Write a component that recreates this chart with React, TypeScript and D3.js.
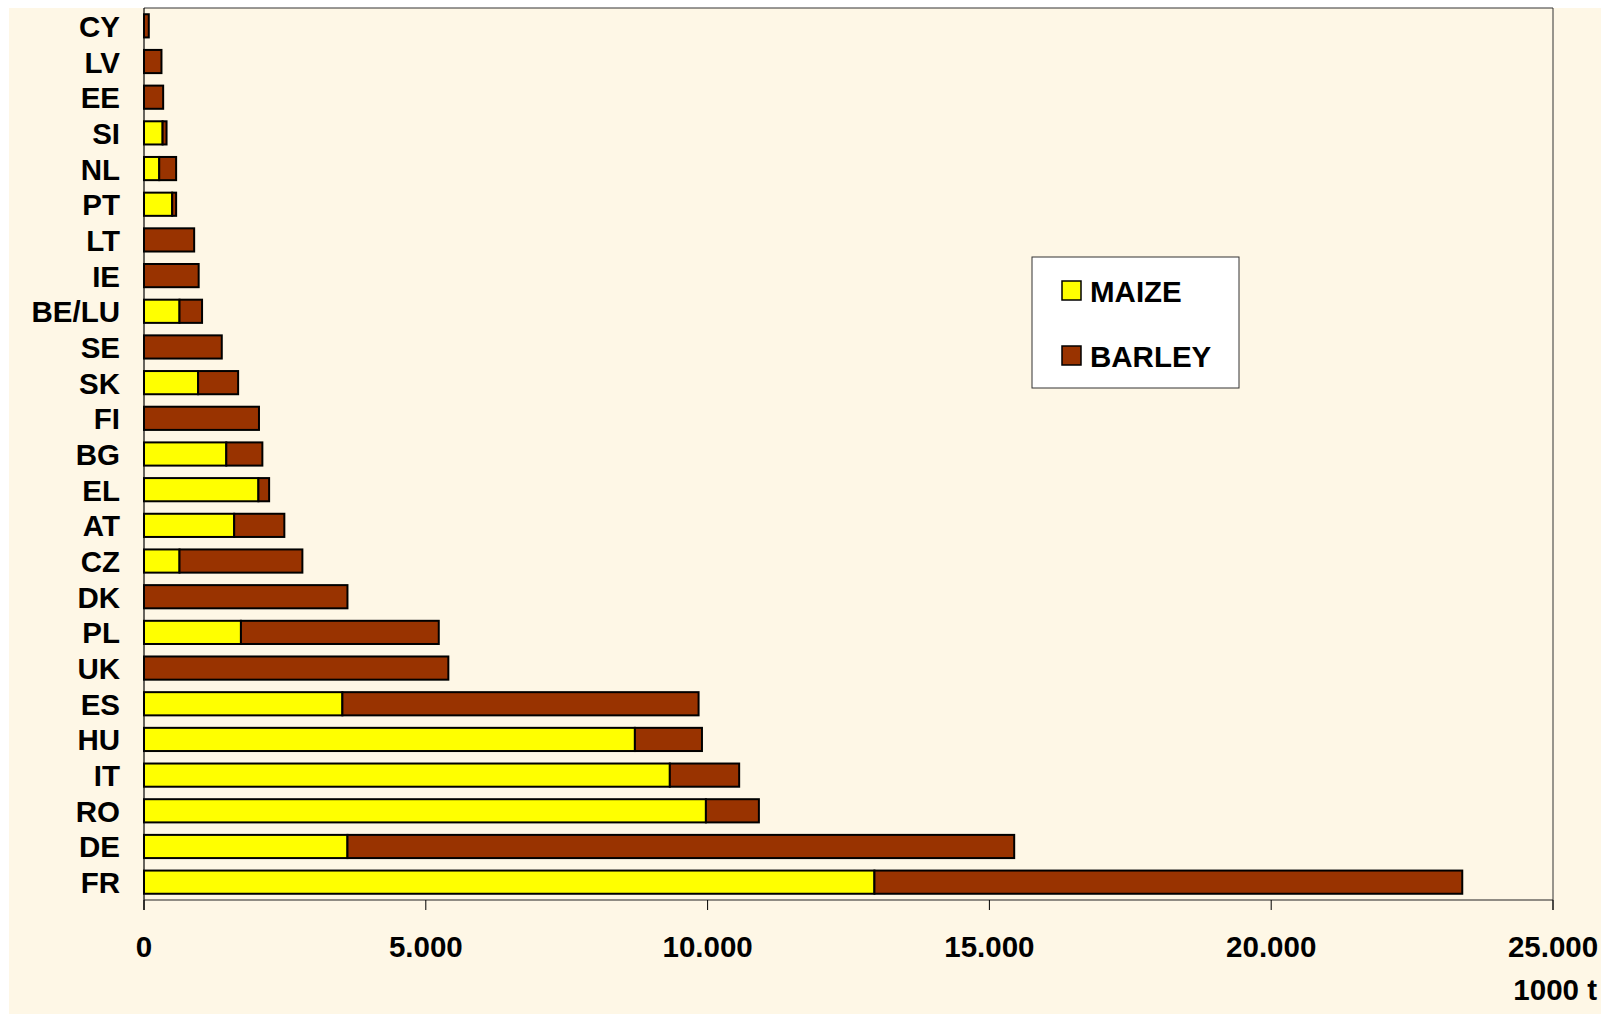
import React from "react";
import * as d3 from "d3";

const categories = ["CY", "LV", "EE", "SI", "NL", "PT", "LT", "IE", "BE/LU", "SE", "SK", "FI", "BG", "EL", "AT", "CZ", "DK", "PL", "UK", "ES", "HU", "IT", "RO", "DE", "FR"];
const maize = [0, 0, 0, 330, 270, 500, 0, 0, 630, 0, 960, 0, 1460, 2030, 1600, 630, 0, 1720, 0, 3520, 8710, 9330, 9970, 3610, 12960];
const barley = [85, 310, 340, 70, 300, 70, 890, 970, 400, 1380, 710, 2040, 640, 190, 890, 2180, 3610, 3510, 5400, 6320, 1190, 1230, 940, 11830, 10430];
const xTicks = [0, 5000, 10000, 15000, 20000, 25000];
const seriesNames = ["MAIZE", "BARLEY"];
const seriesColors = ["#FFFF00", "#993300"];
const unitLabel = "1000 t";

const W = 1601;
const H = 1014;
const plot = { left: 144, top: 8, right: 1553, bottom: 900 };
const FONT = "'Liberation Sans', Arial, sans-serif";
const FS = 29.5;

export default function App() {
  const x = d3.scaleLinear().domain([0, 25000]).range([plot.left, plot.right]);
  const y = d3
    .scaleBand<string>()
    .domain(categories)
    .range([plot.top, plot.bottom])
    .paddingInner(0.35)
    .paddingOuter(0.175);
  const locale = d3.formatLocale({ decimal: ",", thousands: ".", grouping: [3], currency: ["", ""] });
  const fmt = locale.format(",");
  const bw = y.bandwidth();

  return (
    <svg
      width={W}
      height={H}
      style={{ position: "fixed", left: 0, top: 0, display: "block" }}
      xmlns="http://www.w3.org/2000/svg"
    >
      <defs>
        <filter id="paper" x="0" y="0" width="100%" height="100%">
          <feTurbulence type="fractalNoise" baseFrequency="0.035" numOctaves="3" seed="4" result="noise" />
          <feColorMatrix
            in="noise"
            type="matrix"
            values="0 0 0 0 0.99  0 0 0 0 0.93  0 0 0 0 0.80  0 0 0 0.55 -0.18"
          />
        </filter>
      </defs>
      <rect x={0} y={0} width={W} height={H} fill="#ffffff" />
      <rect x={9} y={8} width={W - 9} height={H - 8} fill="#FEF7E6" />
      <rect x={9} y={8} width={W - 9} height={H - 8} filter="url(#paper)" />

      {/* plot frame */}
      <line x1={plot.left} x2={plot.right} y1={plot.top} y2={plot.top} stroke="#333" strokeWidth={1} />
      <line x1={plot.right} x2={plot.right} y1={plot.top} y2={plot.bottom + 10} stroke="#333" strokeWidth={1} />

      {/* bars */}
      {categories.map((c, i) => {
        const yy = y(c)!;
        const m = maize[i];
        const b = barley[i];
        return (
          <g key={c}>
            {m > 0 && (
              <rect
                x={x(0)}
                y={yy}
                width={x(m) - x(0)}
                height={bw}
                fill={seriesColors[0]}
                stroke="#000"
                strokeWidth={2}
              />
            )}
            {b > 0 && (
              <rect
                x={x(m)}
                y={yy}
                width={x(m + b) - x(m)}
                height={bw}
                fill={seriesColors[1]}
                stroke="#000"
                strokeWidth={2}
              />
            )}
          </g>
        );
      })}

      {/* axes */}
      <line x1={plot.left} x2={plot.left} y1={plot.top} y2={plot.bottom + 10} stroke="#000" strokeWidth={1.2} />
      <line x1={plot.left} x2={plot.right} y1={plot.bottom} y2={plot.bottom} stroke="#222" strokeWidth={1.2} />
      {xTicks.map((t) => (
        <g key={t}>
          <line x1={x(t)} x2={x(t)} y1={plot.bottom} y2={plot.bottom + 10} stroke="#000" strokeWidth={1} />
          <text
            x={x(t)}
            y={957}
            textAnchor="middle"
            fontFamily={FONT}
            fontWeight="bold"
            fontSize={FS}
            fill="#000"
          >
            {fmt(t)}
          </text>
        </g>
      ))}
      <text x={1597} y={1000} textAnchor="end" fontFamily={FONT} fontWeight="bold" fontSize={FS} fill="#000">
        {unitLabel}
      </text>

      {/* category labels */}
      {categories.map((c) => (
        <text
          key={c}
          x={120}
          y={y(c)! + bw / 2 + 11}
          textAnchor="end"
          fontFamily={FONT}
          fontWeight="bold"
          fontSize={FS}
          fill="#000"
        >
          {c}
        </text>
      ))}

      {/* legend */}
      <rect x={1032} y={257} width={207} height={131} fill="#fff" stroke="#333" strokeWidth={1} />
      {seriesNames.map((s, i) => {
        const ly = 291 + i * 65;
        return (
          <g key={s}>
            <rect x={1062} y={ly - 10} width={19} height={19} fill={seriesColors[i]} stroke="#000" strokeWidth={1.5} />
            <text x={1090} y={ly + 11} fontFamily={FONT} fontWeight="bold" fontSize={FS} fill="#000">
              {s}
            </text>
          </g>
        );
      })}
    </svg>
  );
}
